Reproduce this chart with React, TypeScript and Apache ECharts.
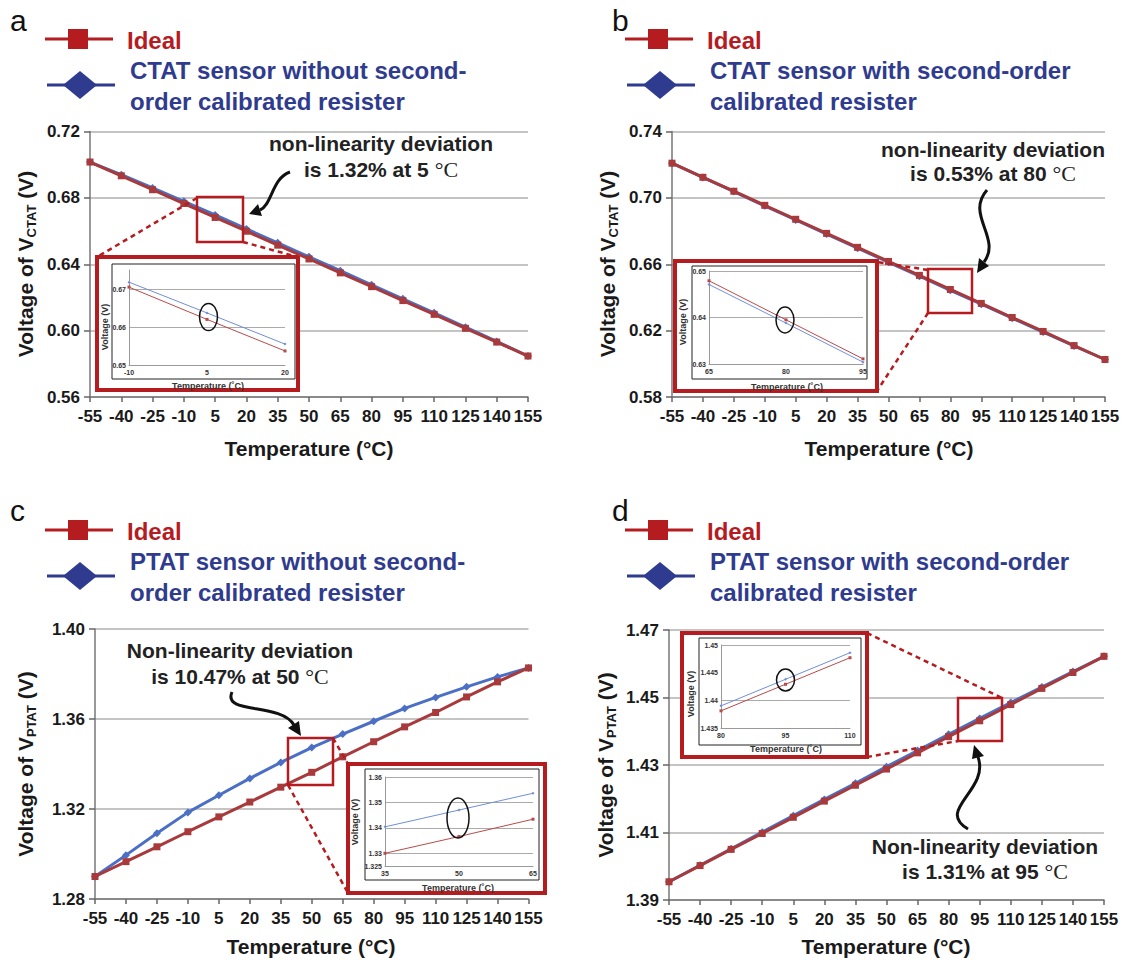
import React, { useEffect, useRef } from "react";
import * as echarts from "echarts";

// ---------- data ----------
const temps = ["-55", "-40", "-25", "-10", "5", "20", "35", "50", "65", "80", "95", "110", "125", "140", "155"];

const yTicksA = ["0.56", "0.60", "0.64", "0.68", "0.72"];
const yTicksB = ["0.58", "0.62", "0.66", "0.70", "0.74"];
const yTicksC = ["1.28", "1.32", "1.36", "1.40"];
const yTicksD = ["1.39", "1.41", "1.43", "1.45", "1.47"];

const idealA = [0.7016, 0.6933, 0.6849, 0.6766, 0.6682, 0.6599, 0.6515, 0.6432, 0.6348, 0.6265, 0.6181, 0.6098, 0.6014, 0.5931, 0.5847];
const ctatA = [0.7016, 0.6940, 0.6860, 0.6779, 0.6697, 0.6613, 0.6529, 0.6445, 0.6361, 0.6276, 0.6192, 0.6107, 0.6021, 0.5935, 0.5847];

const idealB = [0.7209, 0.7124, 0.7040, 0.6955, 0.6871, 0.6786, 0.6702, 0.6617, 0.6533, 0.6448, 0.6364, 0.6279, 0.6195, 0.6110, 0.6026];
const ctatB = [0.7209, 0.7123, 0.7038, 0.6952, 0.6867, 0.6782, 0.6697, 0.6612, 0.6528, 0.6443, 0.6359, 0.6275, 0.6191, 0.6108, 0.6026];

const idealC = [1.2900, 1.2966, 1.3032, 1.3099, 1.3165, 1.3231, 1.3297, 1.3363, 1.3432, 1.3499, 1.3565, 1.3629, 1.3698, 1.3765, 1.3827];
const ptatC = [1.2900, 1.2995, 1.3092, 1.3185, 1.3261, 1.3336, 1.3407, 1.3473, 1.3533, 1.3590, 1.3647, 1.3696, 1.3743, 1.3787, 1.3827];

const idealD = [1.3954, 1.4002, 1.4050, 1.4097, 1.4145, 1.4193, 1.4240, 1.4288, 1.4336, 1.4384, 1.4431, 1.4479, 1.4527, 1.4574, 1.4622];
const ptatD = [1.3954, 1.4003, 1.4052, 1.4101, 1.4150, 1.4198, 1.4246, 1.4295, 1.4343, 1.4391, 1.4438, 1.4485, 1.4531, 1.4577, 1.4622];

// insets
const insetTempsA = ["-10", "5", "20"];
const insetIdealA = [0.6705, 0.6620, 0.6537];
const insetCtatA = [0.6718, 0.6637, 0.6555];
const insetRangeA = [0.65, 0.675];
const insetYLabelsA = ["0.65", "0.66", "0.67"];
const insetGridA = [0.66, 0.67];

const insetTempsB = ["65", "80", "95"];
const insetIdealB = [0.6479, 0.6395, 0.6311];
const insetCtatB = [0.6471, 0.6388, 0.6304];
const insetRangeB = [0.63, 0.65];
const insetYLabelsB = ["0.63", "0.64", "0.65"];
const insetGridB = [0.64, 0.65];

const insetTempsC = ["35", "50", "65"];
const insetIdealC = [1.3300, 1.3366, 1.3434];
const insetPtatC = [1.3404, 1.3470, 1.3536];
const insetRangeC = [1.325, 1.36];
const insetYLabelsC = ["1.325", "1.33", "1.34", "1.35", "1.36"];
const insetGridC = [1.33, 1.34, 1.35, 1.36];

const insetTempsD = ["80", "95", "110"];
const insetIdealD = [1.4381, 1.4429, 1.4477];
const insetPtatD = [1.4390, 1.4438, 1.4486];
const insetRangeD = [1.435, 1.45];
const insetYLabelsD = ["1.435", "1.44", "1.445", "1.45"];
const insetGridD = [1.44, 1.445, 1.45];

// texts
const legendA = ["CTAT sensor without second-", "order calibrated resister"];
const legendB = ["CTAT sensor with second-order", "calibrated resister"];
const legendC = ["PTAT sensor without second-", "order calibrated resister"];
const legendD = ["PTAT sensor with second-order", "calibrated resister"];
const noteA = ["non-linearity deviation", "is 1.32% at 5 "];
const noteB = ["non-linearity deviation", "is 0.53% at 80 "];
const noteC = ["Non-linearity deviation", "is 10.47% at 50 "];
const noteD = ["Non-linearity deviation", "is 1.31% at 95 "];

// ---------- styles ----------
const FONT = "'Liberation Sans', Arial, Helvetica, sans-serif";
const SERIF = "'Liberation Serif', 'DejaVu Serif', serif";
const RED = "#a83a3c";
const BLUE = "#4b6fc4";
const LEG_RED = "#b51c1f";
const LEG_BLUE = "#2f3b8e";
const BOX_RED = "#b51c1f";
const INK = "#1a1a1a";

const mainPanels = [
  { box: { left: 90, top: 131.5, width: 438, height: 265.5 }, yTicks: yTicksA, ideal: idealA, other: ctatA },
  { box: { left: 672, top: 131.5, width: 433, height: 265.5 }, yTicks: yTicksB, ideal: idealB, other: ctatB },
  { box: { left: 95, top: 629, width: 433.5, height: 270 }, yTicks: yTicksC, ideal: idealC, other: ptatC },
  { box: { left: 669, top: 630, width: 435, height: 270 }, yTicks: yTicksD, ideal: idealD, other: ptatD },
];

const insetPanels = [
  { box: { left: 129, top: 270, width: 156, height: 95 }, cats: insetTempsA, range: insetRangeA, labels: insetYLabelsA, lines: insetGridA, ideal: insetIdealA, other: insetCtatA },
  { box: { left: 709, top: 271, width: 154, height: 93 }, cats: insetTempsB, range: insetRangeB, labels: insetYLabelsB, lines: insetGridB, ideal: insetIdealB, other: insetCtatB },
  { box: { left: 385, top: 777, width: 148, height: 89 }, cats: insetTempsC, range: insetRangeC, labels: insetYLabelsC, lines: insetGridC, ideal: insetIdealC, other: insetPtatC },
  { box: { left: 721, top: 645, width: 129, height: 83 }, cats: insetTempsD, range: insetRangeD, labels: insetYLabelsD, lines: insetGridD, ideal: insetIdealD, other: insetPtatD },
];

function txt(x: number, y: number, text: string, size: number, color: string, extra: any = {}) {
  return {
    type: "text",
    x,
    y,
    z: 20,
    style: { text, fontSize: size, fontWeight: "bold", fontFamily: FONT, fill: color, align: "left", verticalAlign: "middle", ...extra },
  };
}

function legend(dx: number, dy: number, lines: string[]) {
  return [
    { type: "line", z: 20, shape: { x1: 45 + dx, y1: 39 + dy, x2: 113 + dx, y2: 39 + dy }, style: { stroke: LEG_RED, lineWidth: 3 } },
    { type: "rect", z: 20, shape: { x: 68 + dx, y: 29 + dy, width: 20, height: 20 }, style: { fill: LEG_RED } },
    { type: "line", z: 20, shape: { x1: 47 + dx, y1: 85 + dy, x2: 115 + dx, y2: 85 + dy }, style: { stroke: LEG_BLUE, lineWidth: 3 } },
    {
      type: "polygon",
      z: 20,
      shape: { points: [[80 + dx, 71 + dy], [97 + dx, 85 + dy], [80 + dx, 99 + dy], [63 + dx, 85 + dy]] },
      style: { fill: LEG_BLUE },
    },
    txt(127 + dx, 40 + dy, "Ideal", 24, LEG_RED),
    txt(130 + dx, 70 + dy, lines[0], 24, LEG_BLUE),
    txt(130 + dx, 101 + dy, lines[1], 24, LEG_BLUE),
  ];
}

function yTitle(x: number, y: number, sub: string) {
  return {
    type: "text",
    x,
    y,
    z: 20,
    rotation: Math.PI / 2,
    style: {
      text: `{m|Voltage of V}{s|${sub}}{m| (V)}`,
      align: "center",
      verticalAlign: "middle",
      rich: {
        m: { fontSize: 21, fontWeight: "bold", fontFamily: FONT, fill: INK, lineHeight: 26 },
        s: { fontSize: 13, fontWeight: "bold", fontFamily: FONT, fill: INK, lineHeight: 15, verticalAlign: "bottom" },
      },
    },
  };
}

function note(cx: number, y1: number, y2: number, lines: string[]) {
  return [
    txt(cx, y1, lines[0], 21, "#222", { align: "center" }),
    {
      type: "text",
      x: cx,
      y: y2,
      z: 20,
      style: {
        text: `{b|${lines[1]}}{s|°C}`,
        align: "center",
        verticalAlign: "middle",
        rich: {
          b: { fontSize: 21, fontWeight: "bold", fontFamily: FONT, fill: "#222" },
          s: { fontSize: 22, fontWeight: "normal", fontFamily: SERIF, fill: "#222" },
        },
      },
    },
  ];
}

function arrow(b: number[], head: number[][]) {
  return [
    {
      type: "bezierCurve",
      z: 20,
      shape: { x1: b[0], y1: b[1], cpx1: b[2], cpy1: b[3], cpx2: b[4], cpy2: b[5], x2: b[6], y2: b[7] },
      style: { stroke: "#111", lineWidth: 3, fill: "none" },
    },
    { type: "polygon", z: 20, shape: { points: head }, style: { fill: "#111" } },
  ];
}

function insetFrame(outer: number[], inner: number[], zoomRect: number[], dashes: number[][], ellipse: number[], vLabel: number[], tLabel: number[]) {
  const els: any[] = [
    {
      type: "rect",
      z: 1,
      shape: { x: outer[0], y: outer[1], width: outer[2] - outer[0], height: outer[3] - outer[1] },
      style: { fill: "#fff", stroke: BOX_RED, lineWidth: 4 },
    },
    {
      type: "rect",
      z: 2,
      shape: { x: inner[0], y: inner[1], width: inner[2] - inner[0], height: inner[3] - inner[1] },
      style: { fill: "none", stroke: "#222", lineWidth: 1 },
    },
    {
      type: "rect",
      z: 6,
      shape: { x: zoomRect[0], y: zoomRect[1], width: zoomRect[2] - zoomRect[0], height: zoomRect[3] - zoomRect[1] },
      style: { fill: "none", stroke: BOX_RED, lineWidth: 2.5 },
    },
    {
      type: "ellipse",
      z: 15,
      shape: { cx: ellipse[0], cy: ellipse[1], rx: ellipse[2], ry: ellipse[3] },
      style: { fill: "none", stroke: "#111", lineWidth: 1.5 },
    },
    {
      type: "text",
      x: vLabel[0],
      y: vLabel[1],
      z: 15,
      rotation: Math.PI / 2,
      style: { text: "Voltage (V)", fontSize: 9, fontWeight: "bold", fontFamily: FONT, fill: "#333", align: "center", verticalAlign: "middle" },
    },
    {
      type: "text",
      x: tLabel[0],
      y: tLabel[1],
      z: 15,
      style: { text: "Temperature (˚C)", fontSize: 9, fontWeight: "bold", fontFamily: FONT, fill: "#333", align: "center", verticalAlign: "middle" },
    },
  ];
  dashes.forEach((d) => {
    els.push({
      type: "line",
      z: 6,
      shape: { x1: d[0], y1: d[1], x2: d[2], y2: d[3] },
      style: { stroke: BOX_RED, lineWidth: 2.5, lineDash: [5, 4] },
    });
  });
  return els;
}

function buildOption() {
  const grid: any[] = [];
  const xAxis: any[] = [];
  const yAxis: any[] = [];
  const series: any[] = [];

  mainPanels.forEach((p, i) => {
    grid.push({ ...p.box, containLabel: false, outerBoundsMode: "none" });
    xAxis.push({
      type: "category",
      gridIndex: i,
      position: "bottom",
      data: temps,
      boundaryGap: false,
      axisLine: { show: true, lineStyle: { color: "#777", width: 1.5 } },
      axisTick: { show: true, inside: false, length: 5, interval: 0, lineStyle: { color: "#666", width: 1.5 } },
      axisLabel: { show: true, interval: 0, fontSize: 17, fontWeight: "bold", fontFamily: FONT, color: INK, margin: 11 },
      splitLine: { show: false },
    });
    yAxis.push({
      type: "value",
      gridIndex: i,
      position: "left",
      min: parseFloat(p.yTicks[0]),
      max: parseFloat(p.yTicks[p.yTicks.length - 1]),
      show: false,
    });
    yAxis.push({
      type: "category",
      gridIndex: i,
      position: "left",
      offset: 0,
      data: p.yTicks,
      boundaryGap: false,
      axisLine: { show: true, lineStyle: { color: "#777", width: 1.5 } },
      axisTick: { show: true, interval: 0, length: 6, lineStyle: { color: "#666", width: 1.5 } },
      axisLabel: { interval: 0, fontSize: 17, fontWeight: "bold", fontFamily: FONT, color: INK, margin: 10 },
      splitLine: { show: true, interval: 0, lineStyle: { color: "#b0b0b0", width: 1.5 } },
    });
    series.push({
      type: "line",
      xAxisIndex: i,
      yAxisIndex: 2 * i,
      data: p.other,
      symbol: "diamond",
      symbolSize: 8,
      showSymbol: true,
      showAllSymbol: true,
      lineStyle: { color: BLUE, width: 3 },
      itemStyle: { color: BLUE },
      z: 3,
      silent: true,
    });
    series.push({
      type: "line",
      xAxisIndex: i,
      yAxisIndex: 2 * i,
      data: p.ideal,
      symbol: "rect",
      symbolSize: 7,
      showSymbol: true,
      showAllSymbol: true,
      lineStyle: { color: RED, width: 3 },
      itemStyle: { color: RED },
      z: 4,
      silent: true,
    });
  });

  insetPanels.forEach((p, j) => {
    const gi = 4 + j;
    const yi = 8 + j;
    grid.push({ ...p.box, containLabel: false, outerBoundsMode: "none" });
    xAxis.push({
      type: "category",
      gridIndex: gi,
      position: "bottom",
      data: p.cats,
      boundaryGap: false,
      z: 10,
      axisLine: { show: true, lineStyle: { color: "#999", width: 1 } },
      axisTick: { show: false },
      axisLabel: { interval: 0, fontSize: 7, fontWeight: "bold", fontFamily: FONT, color: "#333", margin: 4 },
      splitLine: { show: false },
    });
    yAxis.push({
      type: "value",
      gridIndex: gi,
      position: "left",
      min: p.range[0],
      max: p.range[1],
      interval: 0.005,
      z: 10,
      axisLine: { show: true, lineStyle: { color: "#999", width: 1 } },
      axisTick: { show: false },
      splitLine: { show: false },
      axisLabel: {
        fontSize: 7,
        fontWeight: "bold",
        fontFamily: FONT,
        color: "#333",
        margin: 3,
        showMinLabel: true,
        showMaxLabel: true,
        formatter: (v: number) => {
          const hit = p.labels.find((l) => Math.abs(parseFloat(l) - v) < 1e-7);
          return hit ?? "";
        },
      },
    });
    series.push({
      type: "line",
      xAxisIndex: gi,
      yAxisIndex: yi,
      data: p.other,
      symbol: "diamond",
      symbolSize: 3,
      lineStyle: { color: "#6f8fd8", width: 1 },
      itemStyle: { color: "#6f8fd8" },
      z: 11,
      silent: true,
      markLine: {
        silent: true,
        symbol: ["none", "none"],
        label: { show: false },
        lineStyle: { color: "#aaa", type: "solid", width: 1 },
        data: p.lines.map((v) => ({ yAxis: v })),
      },
    });
    series.push({
      type: "line",
      xAxisIndex: gi,
      yAxisIndex: yi,
      data: p.ideal,
      symbol: "rect",
      symbolSize: 3,
      lineStyle: { color: "#b94a4a", width: 1 },
      itemStyle: { color: "#b94a4a" },
      z: 12,
      silent: true,
    });
  });

  const graphic: any[] = [
    // panel letters
    txt(10, 20, "a", 30, "#111", { fontWeight: "normal" }),
    txt(612, 20, "b", 30, "#111", { fontWeight: "normal" }),
    txt(10, 510, "c", 30, "#111", { fontWeight: "normal" }),
    txt(612, 510, "d", 30, "#111", { fontWeight: "normal" }),
    ...legend(0, 0, legendA),
    ...legend(580, 0, legendB),
    ...legend(0, 491, legendC),
    ...legend(580, 491, legendD),
    yTitle(25, 264, "CTAT"),
    yTitle(607, 264, "CTAT"),
    yTitle(25, 764, "PTAT"),
    yTitle(605, 765, "PTAT"),
    txt(309, 448, "Temperature (°C)", 21, INK, { align: "center" }),
    txt(889, 448, "Temperature (°C)", 21, INK, { align: "center" }),
    txt(311, 946, "Temperature (°C)", 21, INK, { align: "center" }),
    txt(886, 946, "Temperature (°C)", 21, INK, { align: "center" }),
    ...note(381, 143, 169, noteA),
    ...note(993, 149, 173, noteB),
    ...note(240, 650, 676, noteC),
    ...note(985, 846, 871, noteD),
    ...arrow([290, 172, 272, 178, 272, 205, 260, 210], [[249, 214], [262, 216], [258, 204]]),
    ...arrow([987, 190, 965, 215, 1002, 238, 984, 262], [[977, 273], [989, 266], [979, 258]]),
    ...arrow([232, 692, 222, 715, 280, 702, 294, 725], [[301, 736], [299, 721], [288, 728]]),
    ...arrow([968, 829, 935, 810, 990, 790, 978, 757], [[974, 745], [984, 756], [972, 759]]),
    ...insetFrame([97, 257, 298, 390], [112, 264, 295, 379], [197, 197, 243, 242], [[197, 198, 97, 257], [243, 242, 298, 257]], [208.5, 317, 9, 13.5], [105, 327], [208, 386]),
    ...insetFrame([675, 261, 877, 391], [692, 266, 867, 379], [928, 269, 972, 313], [[928, 270, 877, 262], [928, 313, 877, 391]], [785, 320, 9, 13], [683, 322], [787, 387]),
    ...insetFrame([348, 764, 545, 893], [365, 769, 539, 880], [288, 738, 333, 785], [[333, 738, 348, 764], [288, 785, 348, 893]], [458, 818, 11, 20], [355, 822], [458, 888]),
    ...insetFrame([682, 633, 867, 757], [699, 638, 861, 745], [958, 698, 1002, 741], [[867, 633, 1002, 698], [867, 757, 958, 741]], [785.5, 680, 9, 11], [691, 694], [786, 749]),
  ];

  return {
    animation: false,
    backgroundColor: "#ffffff",
    textStyle: { fontFamily: FONT },
    grid,
    xAxis,
    yAxis,
    series,
    graphic,
  };
}

export default function App() {
  const ref = useRef<HTMLDivElement>(null);
  useEffect(() => {
    if (!ref.current) return;
    const chart = echarts.init(ref.current, null, { renderer: "svg", width: 1128, height: 960 });
    chart.setOption(buildOption() as any);
    return () => chart.dispose();
  }, []);
  return (
    <div
      ref={ref}
      style={{ position: "absolute", left: 0, top: 0, width: 1128, height: 960, background: "#fff" }}
    />
  );
}
